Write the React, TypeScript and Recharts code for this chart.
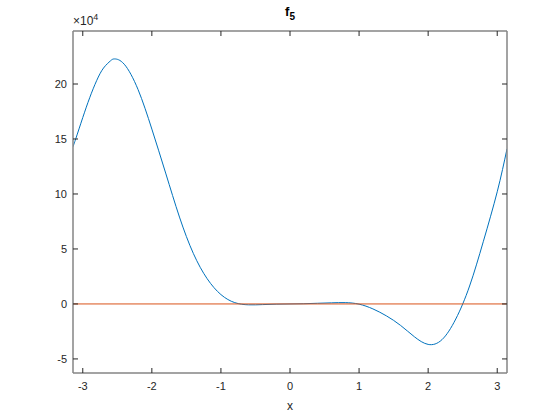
import { Line, LineChart, XAxis, YAxis } from "recharts";

const BLUE = "#0072BD";
const ORANGE = "#D95319";
const AXIS = "#858585";
const TEXT = "#262626";
const FONT = "'Liberation Sans', Arial, sans-serif";

const PI = Math.PI;

// f5 samples (y in units of 1e4)
const xs = [
  -PI, -3.1, -3.0, -2.9, -2.8, -2.7, -2.6, -2.54, -2.4, -2.2, -2.0, -1.8, -1.6,
  -1.4, -1.2, -1.0, -0.8, -0.6, -0.4, -0.2, 0, 0.2, 0.4, 0.6, 0.8, 1.0, 1.2,
  1.4, 1.6, 1.8, 2.0, 2.2, 2.4, 2.6, 2.8, 3.0, PI,
];
const ys = [
  14.3, 15.05, 16.95, 18.75, 20.3, 21.45, 22.1, 22.28, 21.8, 19.5, 15.9, 11.9,
  7.9, 4.6, 2.3, 0.85, 0.12, -0.08, -0.06, -0.02, 0, 0.02, 0.06, 0.1, 0.12,
  -0.02, -0.45, -1.1, -1.95, -2.98, -3.68, -3.25, -1.37, 1.63, 5.7, 10.2, 14.1,
];
const zeroXs = [-PI, PI];

const xTicks = [-3, -2, -1, 0, 1, 2, 3];
const yTicks = [-5, 0, 5, 10, 15, 20];

const SCALE = 1e4;
const curve = xs.map((x, i) => ({ x, y: ys[i] * SCALE }));
const zero = zeroXs.map((x) => ({ x, y: 0 }));

// box sides: tick marks only, no labels
const NoLabel = () => <g />;

export default function App() {
  const tickStyle = { fontSize: 11, fill: TEXT, fontFamily: FONT };
  return (
    <div style={{ position: "relative", width: 560, height: 420, background: "#fff" }}>
      <style>{"body{margin:0}"}</style>
      <LineChart
        width={560}
        height={420}
        margin={{ top: 30, right: 52, bottom: 17, left: 33 }}
      >
        <XAxis
          xAxisId="b"
          type="number"
          dataKey="x"
          domain={[-PI, PI]}
          ticks={xTicks}
          allowDataOverflow
          height={30}
          tickSize={-5}
          tickMargin={14}
          axisLine={{ stroke: AXIS, strokeWidth: 1.5 }}
          tickLine={{ stroke: TEXT }}
          tick={tickStyle}
        />
        <XAxis
          xAxisId="t"
          orientation="top"
          type="number"
          dataKey="x"
          domain={[-PI, PI]}
          ticks={xTicks}
          allowDataOverflow
          height={1}
          tickSize={-5}
          axisLine={{ stroke: AXIS, strokeWidth: 1.5 }}
          tickLine={{ stroke: TEXT }}
          tick={NoLabel}
        />
        <YAxis
          yAxisId="l"
          type="number"
          domain={[-62800, 248200]}
          ticks={yTicks.map((t) => t * SCALE)}
          tickFormatter={(v) => String(v / SCALE)}
          allowDataOverflow
          width={40}
          tickSize={-5}
          tickMargin={11}
          axisLine={{ stroke: AXIS, strokeWidth: 1.5 }}
          tickLine={{ stroke: TEXT }}
          tick={tickStyle}
        />
        <YAxis
          yAxisId="r"
          orientation="right"
          type="number"
          domain={[-62800, 248200]}
          ticks={yTicks.map((t) => t * SCALE)}
          allowDataOverflow
          width={1}
          tickSize={-5}
          axisLine={{ stroke: AXIS, strokeWidth: 1.5 }}
          tickLine={{ stroke: TEXT }}
          tick={NoLabel}
        />
        <Line
          xAxisId="b"
          yAxisId="l"
          data={curve}
          dataKey="y"
          type="natural"
          stroke={BLUE}
          strokeWidth={1}
          dot={false}
          isAnimationActive={false}
        />
        <Line
          xAxisId="b"
          yAxisId="l"
          data={zero}
          dataKey="y"
          type="linear"
          stroke={ORANGE}
          strokeWidth={1}
          dot={false}
          isAnimationActive={false}
        />
      </LineChart>
      <div
        style={{
          position: "absolute",
          left: 0,
          width: 580,
          top: 4,
          textAlign: "center",
          fontFamily: FONT,
          fontWeight: "bold",
          fontSize: 13,
          color: "#000",
        }}
      >
        f<sub style={{ fontSize: 10 }}>5</sub>
      </div>
      <div
        style={{
          position: "absolute",
          left: 73,
          top: 12,
          fontFamily: FONT,
          fontSize: 12,
          color: TEXT,
        }}
      >
        ×10<sup style={{ fontSize: 9 }}>4</sup>
      </div>
      <div
        style={{
          position: "absolute",
          left: 0,
          width: 580,
          top: 399,
          textAlign: "center",
          fontFamily: FONT,
          fontSize: 12,
          color: TEXT,
        }}
      >
        x
      </div>
    </div>
  );
}
